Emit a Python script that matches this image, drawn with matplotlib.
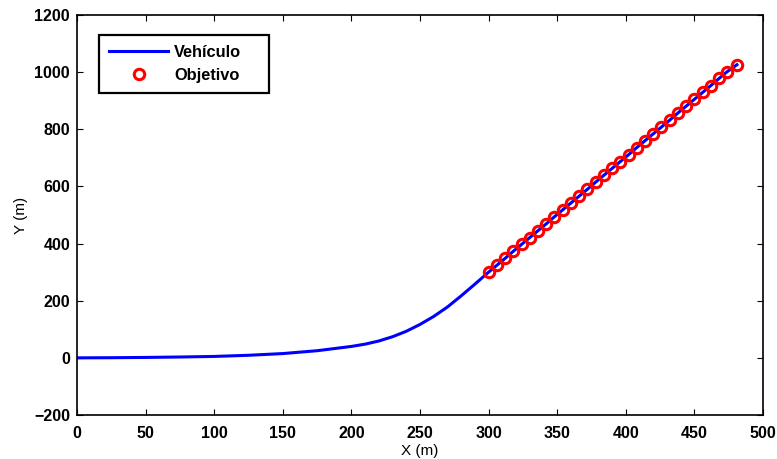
import matplotlib
matplotlib.use("Agg")
import matplotlib.pyplot as plt

# Vehicle trajectory (curve part, then along the target line)
veh_x = [0, 25, 50, 75, 100, 125, 150, 175, 200, 210, 220, 230, 240, 250, 260, 270, 280, 290, 300,
         306, 312, 318, 324, 330, 336, 342, 348, 354, 360, 366, 372, 378, 384, 390, 396, 402,
         408, 414, 420, 426, 432, 438, 444, 450, 456, 462, 468, 474, 481]
veh_y = [0, 0.5, 1.5, 3, 5, 9, 15, 25, 40, 48, 59, 74, 93, 117, 145, 178, 217, 258, 300,
         324, 348, 373, 397, 421, 445, 469, 494, 518, 542, 566, 590, 615, 639, 663, 687, 711,
         736, 760, 784, 808, 832, 857, 881, 905, 929, 953, 978, 1002, 1026]

# Target points
obj_x = [300, 306, 312, 318, 324, 330, 336, 342, 348, 354, 360, 366, 372, 378, 384, 390,
         396, 402, 408, 414, 420, 426, 432, 438, 444, 450, 456, 462, 468, 474, 481]
obj_y = [300, 324, 348, 373, 397, 421, 445, 469, 494, 518, 542, 566, 590, 615, 639, 663,
         687, 711, 736, 760, 784, 808, 832, 857, 881, 905, 929, 953, 978, 1002, 1026]

xticks = [0, 50, 100, 150, 200, 250, 300, 350, 400, 450, 500]
xticklabels = ['0', '50', '100', '150', '200', '250', '300', '350', '400', '450', '500']
yticks = [-200, 0, 200, 400, 600, 800, 1000, 1200]
yticklabels = ['\u2212200', '0', '200', '400', '600', '800', '1000', '1200']

plt.rcParams['font.family'] = ['Liberation Sans', 'DejaVu Sans']

fig = plt.figure(figsize=(7.77, 4.59), dpi=100)
ax = fig.add_axes([77/777, 1 - 415/459, (763-77)/777, (415-15)/459])

ax.plot(veh_x, veh_y, color='#0000ff', lw=2.2, label='Vehículo', zorder=2,
        solid_joinstyle='round')
ax.plot(obj_x, obj_y, 'o', markerfacecolor='none', markeredgecolor='#ff0000',
        markeredgewidth=2.2, markersize=7.5, label='Objetivo', zorder=3)

ax.set_xlim(0, 500)
ax.set_ylim(-200, 1200)
ax.set_xticks(xticks)
ax.set_xticklabels(xticklabels, fontweight='bold')
ax.set_yticks(yticks)
ax.set_yticklabels(yticklabels, fontweight='bold')
ax.tick_params(direction='in', length=4, width=0.8, top=True, right=True,
               labelsize=11.5)
ax.tick_params(axis='x', pad=8)
ax.tick_params(axis='y', pad=5)

for s in ax.spines.values():
    s.set_linewidth(1.2)

ax.set_xlabel('X (m)', fontsize=11, labelpad=2)
ax.set_ylabel('Y (m)', fontsize=11, labelpad=4)

leg = ax.legend(loc='upper left', bbox_to_anchor=(22/686, 0.8, 170/686, 0.15),
                mode='expand', fancybox=False,
                edgecolor='black', framealpha=1, prop={'weight': 'bold', 'size': 11.8},
                handlelength=3.6, borderpad=0.62, labelspacing=0.45, handletextpad=0.35,
                borderaxespad=0)
leg.get_frame().set_linewidth(1.6)

fig.savefig('out.png', dpi=100)
